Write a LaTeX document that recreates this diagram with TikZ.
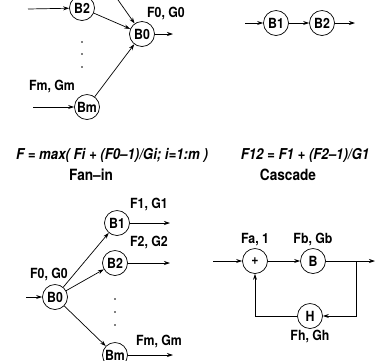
\documentclass[tikz,border=0pt]{standalone}
\usepackage{fontspec}
\setmainfont{TeX Gyre Heros}[FakeStretch=0.88]
\usetikzlibrary{arrows.meta}
\begin{document}
\begin{tikzpicture}[x=1pt,y=-1pt,
  blk/.style={circle,draw,line width=0.7pt,minimum size=25pt,inner sep=0pt,font=\fontsize{14}{16}\selectfont\bfseries},
  lbl/.style={font=\fontsize{14}{16}\selectfont\bfseries,inner sep=0pt},
  capt/.style={font=\fontsize{15.5}{18}\selectfont\bfseries,inner sep=0pt},
  form/.style={font=\fontsize{15}{18}\selectfont\bfseries\itshape,inner sep=0pt},
  conn/.style={line width=0.7pt,-{Stealth[length=6pt,width=4pt]}},
  dot/.style={circle,fill,inner sep=0pt,minimum size=1.6pt}
]
\useasboundingbox (0,0) rectangle (377,360);
\clip (0,0) rectangle (377,360);
% ---------- Fan-in ----------
\node[blk] (fiB2) at (82,8) {B2};
\node[blk] (fiB0) at (142,34) {B0};
\node[blk] (fiBm) at (87,107) {Bm};
\coordinate (fiIn2) at (28,9);
\coordinate (fiInm) at (33,107);
\coordinate (fiOut) at (173,34);
\coordinate (fiB1) at (104,-20);
\draw[conn] (fiIn2) -- (fiB2);
\draw[conn] (fiInm) -- (fiBm);
\draw[conn] (fiB2) -- (fiB0);
\draw[conn] (fiB1) -- (fiB0);
\draw[conn] (fiBm) -- (fiB0);
\draw[conn] (fiB0) -- (fiOut);
\node[dot] (fid1) at (82,42) {};
\node[dot] (fid2) at (82,54) {};
\node[dot] (fid3) at (82,67) {};
\node[lbl] (fiL0) at (166,14) {F0, G0};
\node[lbl] (fiLm) at (52,87) {Fm, Gm};
% ---------- Cascade ----------
\node[blk] (caB1) at (276,23) {B1};
\node[blk] (caB2) at (322,23) {B2};
\coordinate (caIn) at (245,23);
\coordinate (caOut) at (355,23);
\draw[conn] (caIn) -- (caB1);
\draw[conn] (caB1) -- (caB2);
\draw[conn] (caB2) -- (caOut);
% ---------- captions ----------
\node[form] (f1) at (112,155) {F = max( Fi + (F0\textendash1)/Gi; i=1:m )};
\node[capt] (c1) at (91,175) {Fan\textendash in};
\node[form] (f2) at (305,155) {F12 = F1 + (F2\textendash1)/G1};
\node[capt] (c2) at (288,175) {Cascade};
% ---------- Fan-out ----------
\node[blk] (foB0) at (55,297) {B0};
\node[blk] (foB1) at (117,223) {B1};
\node[blk] (foB2) at (115,263) {B2};
\node[blk] (foBm) at (115,355) {Bm};
\coordinate (foIn) at (26,297);
\coordinate (foO1) at (170,223);
\coordinate (foO2) at (170,263);
\coordinate (foOm) at (173,355);
\draw[conn] (foIn) -- (foB0);
\draw[conn] (foB0) -- (foB1);
\draw[conn] (foB0) -- (foB2);
\draw[conn] (foB0) -- (foBm);
\draw[conn] (foB1) -- (foO1);
\draw[conn] (foB2) -- (foO2);
\draw[conn] (foBm) -- (foOm);
\node[dot] (fod1) at (115,299) {};
\node[dot] (fod2) at (115,312) {};
\node[dot] (fod3) at (115,325) {};
\node[lbl] (foL0) at (49,275) {F0, G0};
\node[lbl] (foL1) at (149,205) {F1, G1};
\node[lbl] (foL2) at (149,243) {F2, G2};
\node[lbl] (foLm) at (159,342) {Fm, Gm};
% ---------- Feedback ----------
\node[blk] (fbP) at (255,261) {+};
\node[blk] (fbB) at (313,261) {B};
\node[blk] (fbH) at (310,316) {H};
\coordinate (fbIn) at (213,261);
\coordinate (fbOut) at (375,261);
\coordinate (fbBr) at (356,261);
\coordinate (fbC1) at (356,316);
\coordinate (fbC2) at (255,316);
\draw[conn] (fbIn) -- (fbP);
\draw[conn] (fbP) -- (fbB);
\draw[conn] (fbB) -- (fbOut);
\draw[conn] (fbBr) -- (fbC1) -- (fbH);
\draw[conn] (fbH) -- (fbC2) -- (fbP);
\node[lbl] (fbLa) at (255,240) {Fa, 1};
\node[lbl] (fbLb) at (313,240) {Fb, Gb};
\node[lbl] (fbLh) at (310,337) {Fh, Gh};
\end{tikzpicture}
\end{document}
